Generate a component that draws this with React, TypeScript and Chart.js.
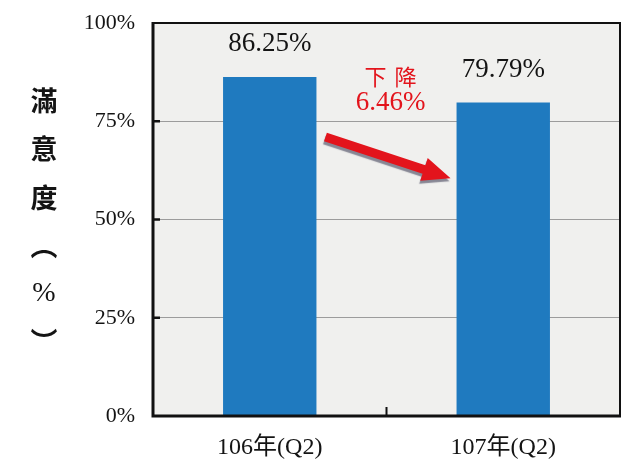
import React, { useEffect, useRef } from "react";
import { Chart, registerables } from "chart.js";

Chart.register(...registerables);

const categories = ["106年(Q2)", "107年(Q2)"];
const satisfaction = [86.25, 79.79];
const yTicks = [0, 25, 50, 75, 100];
const axisTitleChars = ["滿", "意", "度", "︵", "%", "︶"];
const changeWord = "下降";

const SERIF = "'Liberation Serif', 'Noto Sans CJK TC', serif";
const CJK = "'Noto Sans CJK TC', 'Noto Sans CJK SC', sans-serif";

export default function App() {
  const ref = useRef<HTMLCanvasElement | null>(null);

  useEffect(() => {
    document.body.style.margin = "0";
    document.body.style.overflow = "hidden";
    const canvas = ref.current;
    if (!canvas) return;

    const deco = {
      id: "deco",
      beforeDraw(chart: any) {
        const { ctx, chartArea: a } = chart;
        ctx.save();
        ctx.fillStyle = "#f0f0ee";
        ctx.fillRect(a.left, a.top, a.right - a.left, a.bottom - a.top);
        ctx.restore();
      },
      afterDatasetsDraw(chart: any) {
        const { ctx, chartArea: a } = chart;
        const ys = chart.scales.y;
        const xs = chart.scales.x;
        const meta = chart.getDatasetMeta(0);
        ctx.save();

        // value labels
        ctx.fillStyle = "#141414";
        ctx.font = `27px ${SERIF}`;
        ctx.textAlign = "center";
        ctx.textBaseline = "middle";
        meta.data.forEach((bar: any, i: number) => {
          ctx.fillText(satisfaction[i].toFixed(2) + "%", bar.x, bar.y - 33);
        });

        // borders
        ctx.strokeStyle = "#111";
        ctx.lineWidth = 2;
        ctx.beginPath();
        ctx.moveTo(a.left, a.top);
        ctx.lineTo(a.right, a.top);
        ctx.lineTo(a.right, a.bottom);
        ctx.stroke();
        ctx.lineWidth = 3;
        ctx.beginPath();
        ctx.moveTo(a.left, a.top - 1);
        ctx.lineTo(a.left, a.bottom);
        ctx.lineTo(a.right + 1, a.bottom);
        ctx.stroke();

        // inside tick marks
        ctx.lineWidth = 2.5;
        yTicks.forEach((v) => {
          if (v === 0 || v === 100) return;
          const y = ys.getPixelForValue(v);
          ctx.beginPath();
          ctx.moveTo(a.left, y);
          ctx.lineTo(a.left + 7, y);
          ctx.stroke();
        });
        const mid = (xs.getPixelForValue(0) + xs.getPixelForValue(1)) / 2;
        ctx.lineWidth = 2;
        ctx.beginPath();
        ctx.moveTo(mid, a.bottom);
        ctx.lineTo(mid, a.bottom - 9);
        ctx.stroke();

        // arrow annotation
        const b0 = meta.data[0];
        const b1 = meta.data[1];
        const x0 = b0.x + b0.width / 2 + 9;
        const y0 = ys.getPixelForValue(71);
        const x1 = b1.x - b1.width / 2 - 6;
        const y1 = ys.getPixelForValue(60.5);
        const ang = Math.atan2(y1 - y0, x1 - x0);
        const len = Math.hypot(x1 - x0, y1 - y0);
        const headLen = 28;
        const headW = 12;
        const shaftW = 4.5;
        ctx.save();
        ctx.translate(x0, y0);
        ctx.rotate(ang);
        ctx.shadowColor = "rgba(90,90,110,0.7)";
        ctx.shadowOffsetX = -1;
        ctx.shadowOffsetY = 3;
        ctx.shadowBlur = 1;
        ctx.fillStyle = "#e3141c";
        ctx.beginPath();
        ctx.moveTo(0, -shaftW);
        ctx.lineTo(len - headLen, -shaftW);
        ctx.lineTo(len - headLen, -headW);
        ctx.lineTo(len, 0);
        ctx.lineTo(len - headLen, headW);
        ctx.lineTo(len - headLen, shaftW);
        ctx.lineTo(0, shaftW);
        ctx.closePath();
        ctx.fill();
        ctx.restore();

        // change text
        const cx = (b0.x + b0.width / 2 + b1.x - b1.width / 2) / 2 + 4;
        ctx.fillStyle = "#e3141c";
        ctx.textAlign = "center";
        ctx.textBaseline = "middle";
        ctx.font = `22px ${CJK}`;
        const wy = ys.getPixelForValue(satisfaction[0]);
        const chars = Array.from(changeWord);
        chars.forEach((c, i) => {
          ctx.fillText(c, cx + (i - (chars.length - 1) / 2) * 30, wy);
        });
        ctx.font = `27px ${SERIF}`;
        ctx.fillText(
          (satisfaction[0] - satisfaction[1]).toFixed(2) + "%",
          cx,
          ys.getPixelForValue(satisfaction[1])
        );

        // vertical axis title
        ctx.fillStyle = "#141414";
        const top = a.top + 78;
        const step = 48.2;
        axisTitleChars.forEach((c, i) => {
          if (c === "%") ctx.font = `28px ${SERIF}`;
          else ctx.font = `bold 27px ${CJK}`;
          ctx.fillText(c, 44, top + i * step);
        });

        ctx.restore();
      },
    };

    const chart = new Chart(canvas, {
      type: "bar",
      data: {
        labels: categories,
        datasets: [
          {
            data: satisfaction,
            backgroundColor: "#1f7abf",
            borderWidth: 0,
            barPercentage: 0.4,
            categoryPercentage: 1,
          },
        ],
      },
      options: {
        animation: false,
        responsive: false,
        maintainAspectRatio: false,
        layout: { padding: { left: 0, top: 23, right: 2, bottom: 0 } },
        plugins: {
          legend: { display: false },
          tooltip: { enabled: false },
        },
        scales: {
          x: {
            grid: { display: false, drawTicks: false },
            border: { display: false },
            ticks: {
              padding: 17,
              color: "#141414",
              font: { family: SERIF, size: 24 },
            },
            afterFit: (s: any) => {
              s.height = 48;
              s.paddingLeft = 0;
              s.paddingRight = 0;
            },
          },
          y: {
            min: 0,
            max: 100,
            afterBuildTicks: (s: any) => {
              s.ticks = yTicks.map((v) => ({ value: v }));
            },
            grid: {
              drawTicks: false,
              color: (c: any) =>
                c.tick && (c.tick.value === 0 || c.tick.value === 100)
                  ? "rgba(0,0,0,0)"
                  : "#9c9c9c",
              lineWidth: 1,
            },
            border: { display: false },
            ticks: {
              padding: 18,
              color: "#141414",
              font: { family: SERIF, size: 22 },
              callback: (v: any) => v + "%",
            },
            afterFit: (s: any) => {
              s.width = 153;
              s.paddingTop = 0;
              s.paddingBottom = 0;
            },
          },
        },
      },
      plugins: [deco],
    });

    return () => chart.destroy();
  }, []);

  return (
    <div style={{ position: "fixed", left: 0, top: 0, width: 622, height: 464, background: "#fff" }}>
      <canvas ref={ref} width={622} height={464} style={{ display: "block", width: 622, height: 464 }} />
    </div>
  );
}
